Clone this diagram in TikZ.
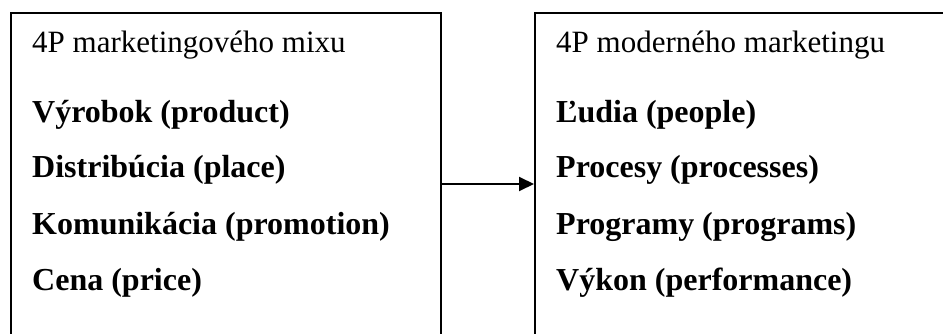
\documentclass[tikz,border=0pt]{standalone}
\usepackage{fontspec}
\setmainfont{Liberation Serif}
\usetikzlibrary{arrows.meta}
\begin{document}
\begin{tikzpicture}[x=1pt,y=-1pt,
  frame/.style={draw=black,line width=2pt,rectangle,anchor=north west,inner sep=0pt},
  head/.style={anchor=base west,inner sep=0pt,font=\fontsize{31pt}{37pt}\selectfont},
  item/.style={anchor=base west,inner sep=0pt,font=\fontsize{32pt}{38pt}\selectfont\bfseries},
  link/.style={line width=2pt,-{Triangle[length=15pt,width=14pt]}}]
\useasboundingbox (0,0) rectangle (943,334);
\clip (0,0) rectangle (943,334);
% two frames, open at the bottom and on the far right
\node[frame,minimum width=430pt,minimum height=380pt] (mix) at (10,12) {};
\node[frame,minimum width=460pt,minimum height=380pt] (modern) at (534,12) {};
% classic 4P
\node[head] (h1) at (32,53) {4P marketingového mixu};
\node[item] (a1) at (32,123) {Výrobok (product)};
\node[item] (a2) at (32,178) {Distribúcia (place)};
\node[item] (a3) at (32,234) {Komunikácia (promotion)};
\node[item] (a4) at (32,290) {Cena (price)};
% modern 4P
\node[head] (h2) at (556,53) {4P moderného marketingu};
\node[item] (b1) at (556,123) {Ľudia (people)};
\node[item] (b2) at (556,178) {Procesy (processes)};
\node[item] (b3) at (556,234) {Programy (programs)};
\node[item] (b4) at (556,290) {Výkon (performance)};
% transition arrow
\coordinate (lvl) at (0,184);
\draw[link] (mix.east |- lvl) -- (modern.west |- lvl);
\end{tikzpicture}
\end{document}
